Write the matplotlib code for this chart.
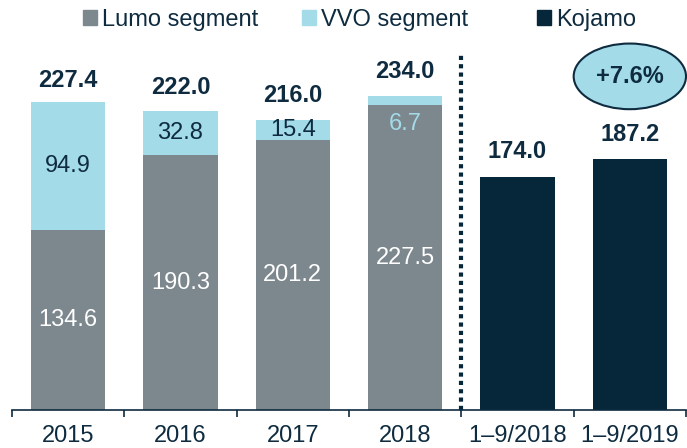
import matplotlib.pyplot as plt
from matplotlib.patches import Ellipse, Patch

plt.rcParams['font.family'] = ['Liberation Sans', 'DejaVu Sans']

# Data
years = ['2015', '2016', '2017', '2018']
lumo = [134.6, 190.3, 201.2, 227.5]
vvo = [94.9, 32.8, 15.4, 6.7]
totals = [227.4, 222.0, 216.0, 234.0]
periods = ['1–9/2018', '1–9/2019']
kojamo = [174.0, 187.2]
growth_label = '+7.6%'

# Colours
c_lumo = '#7c878e'
c_vvo = '#a3dbe8'
c_koj = '#06263a'
c_text = '#0e2b3f'
fs = 17

fig = plt.figure(figsize=(6.87, 4.48), dpi=100)
ax = fig.add_axes([12 / 687, 1 - 410 / 448, 674 / 687, 410 / 448])

width = 0.66
x_years = list(range(len(years)))
x_per = [len(years) + i for i in range(len(periods))]

ax.bar(x_years, lumo, width, color=c_lumo)
ax.bar(x_years, vvo, width, bottom=lumo, color=c_vvo)
ax.bar(x_per, kojamo, width, color=c_koj)

# Segment labels
for i in x_years:
    ax.text(i, lumo[i] / 2, f'{lumo[i]:.1f}', ha='center', va='center',
            fontsize=fs, color='white')
    if vvo[i] > 10:
        ax.text(i, lumo[i] + vvo[i] / 2, f'{vvo[i]:.1f}', ha='center',
                va='center', fontsize=fs, color=c_text)
    else:
        # thin segment: label sits just below, inside the grey part
        ax.text(i, lumo[i] - 14, f'{vvo[i]:.1f}', ha='center',
                va='center', fontsize=fs, color=c_vvo)

# Total labels
for i, t in zip(x_years + x_per, totals + kojamo):
    ax.annotate(f'{t:.1f}', (i, t), xytext=(0, 18), textcoords='offset points',
                ha='center', va='center', fontsize=fs, fontweight='bold',
                color=c_text)

# Dotted separator
ax.plot([3.5, 3.5], [0, 267], color=c_koj, lw=3, linestyle=(0, (1, 1)),
        clip_on=False)

# Growth bubble
ax.add_patch(Ellipse((5.0, 249), 1.0, 49, facecolor=c_vvo, edgecolor=c_text,
                     lw=1.5, clip_on=False))
ax.text(5.0, 249, growth_label, ha='center', va='center', fontsize=fs,
        fontweight='bold', color=c_text)

ax.set_xlim(-0.5, 5.5)
ax.set_ylim(0, 306)
ax.set_xticks(x_years + x_per)
ax.set_xticklabels(years + periods, fontsize=fs, color=c_text)
ax.set_xticks([k - 0.5 for k in range(7)], minor=True)
ax.tick_params(axis='x', which='major', length=0, pad=10.5)
ax.tick_params(axis='x', which='minor', length=5, width=1.2, color=c_text)
ax.set_yticks([])
for s in ['top', 'right', 'left']:
    ax.spines[s].set_visible(False)
ax.spines['bottom'].set_color(c_text)
ax.spines['bottom'].set_linewidth(1.2)

# Legend entries placed individually
for label, col, xpos in [('Lumo segment', c_lumo, 83),
                         ('VVO segment', c_vvo, 302),
                         ('Kojamo', c_koj, 537)]:
    fig.legend(handles=[Patch(color=col, label=label)], loc='center left',
               bbox_to_anchor=(xpos / 687, 1 - 20 / 448), frameon=False,
               fontsize=fs, handlelength=0.6, handleheight=0.6,
               handletextpad=0.2, borderpad=0, borderaxespad=0,
               labelcolor=c_text)

fig.savefig('out.png', dpi=100)
